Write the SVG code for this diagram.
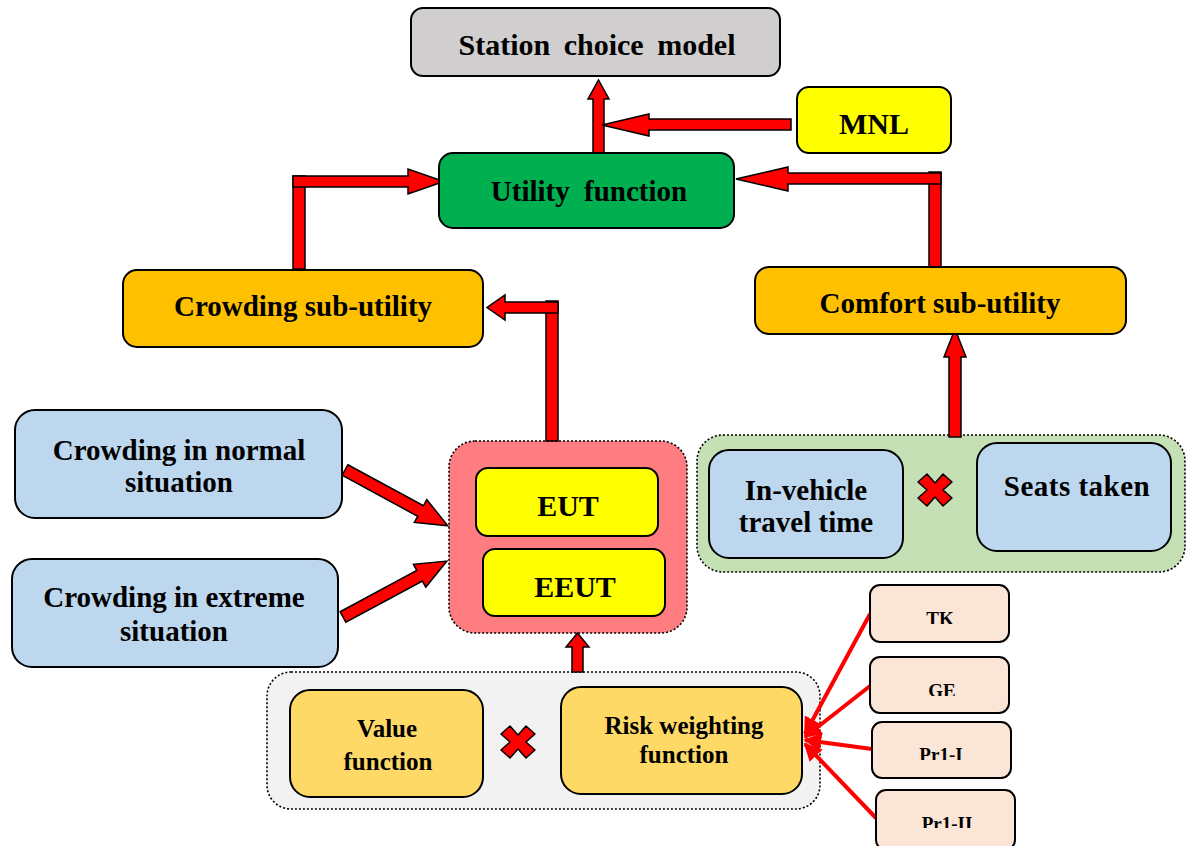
<svg xmlns="http://www.w3.org/2000/svg" width="1192" height="846" viewBox="0 0 1192 846">
  <defs>
    <style>
      .box { stroke: #000; stroke-width: 2; }
      .grp { stroke: #000; stroke-width: 1.6; stroke-dasharray: 2 2; }
      .lbl { font-family: "Liberation Serif", "Times New Roman", serif; font-weight: bold; fill: #000; text-anchor: middle; }
      .big { font-size: 29px; }
      .mid { font-size: 25px; }
      .sml { font-size: 19px; }
      .blk { fill: #FF0000; stroke: #000; stroke-width: 1.5; stroke-linejoin: miter; }
      .thin { stroke: #FF0000; stroke-width: 4; fill: none; }
      .cross { fill: #FF0000; stroke: #000; stroke-width: 1.5; stroke-linejoin: round; }
    </style>
    <marker id="redHead" viewBox="0 0 10 10" refX="9" refY="5" markerWidth="4.5" markerHeight="5" orient="auto" markerUnits="strokeWidth">
      <path d="M0,0 L10,5 L0,10 Z" fill="#FF0000"/>
    </marker>
    <clipPath id="clipTK"><rect x="860" y="580" width="160" height="44"/></clipPath>
    <clipPath id="clipGE"><rect x="860" y="650" width="160" height="46"/></clipPath>
    <clipPath id="clipP1"><rect x="860" y="715" width="160" height="45"/></clipPath>
    <clipPath id="clipP2"><rect x="860" y="785" width="170" height="43"/></clipPath>
  </defs>

  <rect width="1192" height="846" fill="#FFFFFF"/>

  <!-- group containers -->
  <g id="eut-group">
    <rect class="grp" x="449" y="441" width="238" height="192" rx="26" fill="#FF7C80"/>
  </g>
  <g id="comfort-group">
    <rect class="grp" x="697" y="435" width="488" height="137" rx="26" fill="#C5E0B4"/>
  </g>
  <g id="weighting-group">
    <rect class="grp" x="267" y="672" width="553" height="137" rx="24" fill="#F2F2F2"/>
  </g>

  <!-- connectors -->
  <g id="connectors">
    <!-- Utility function -> Station choice model -->
    <polygon class="blk" points="593,153 593,99 588,99 598.5,80 609,99 604,99 604,153"/>
    <!-- MNL -> main shaft -->
    <polygon class="blk" points="791,119 649,119 649,114 602,125 649,136 649,130 791,130"/>
    <!-- Crowding sub-utility -> Utility function -->
    <rect class="blk" x="293" y="176" width="12" height="93"/>
    <polygon class="blk" points="293,176 408,176 408,169 444,181.5 408,194 408,187 293,187"/>
    <!-- Comfort sub-utility -> Utility function -->
    <rect class="blk" x="929" y="172" width="12" height="97"/>
    <polygon class="blk" points="941,173 788,173 788,167 736,179 788,191 788,184 941,184"/>
    <!-- EUT group -> Crowding sub-utility -->
    <rect class="blk" x="546" y="301" width="12" height="140"/>
    <polygon class="blk" points="558,302 505,302 505,295 487,307.5 505,320 505,313 558,313"/>
    <!-- Comfort group -> Comfort sub-utility -->
    <polygon class="blk" points="949,437 949,357 944,357 955,329 966,357 961,357 961,437"/>
    <!-- weighting group -> EUT group -->
    <polygon class="blk" points="572,672 572,647 566,647 577.5,633 589,647 583,647 583,672"/>
    <!-- Crowding in normal situation -> EUT group -->
    <polygon class="blk" transform="translate(345,470) rotate(28.5)" points="0,-6 86,-6 86,-13 117,0 86,13 86,6 0,6"/>
    <!-- Crowding in extreme situation -> EUT group -->
    <polygon class="blk" transform="translate(343,617) rotate(-28.3)" points="0,-6 87,-6 87,-13 118,0 87,13 87,6 0,6"/>
    <!-- parameter sets -> Risk weighting function -->
    <line class="thin" x1="870" y1="614" x2="805" y2="734" marker-end="url(#redHead)"/>
    <line class="thin" x1="870" y1="686" x2="805" y2="737" marker-end="url(#redHead)"/>
    <line class="thin" x1="872" y1="749" x2="805" y2="740" marker-end="url(#redHead)"/>
    <line class="thin" x1="876" y1="818" x2="805" y2="744" marker-end="url(#redHead)"/>
  </g>

  <!-- nodes -->
  <g id="station-choice-model">
    <rect class="box" x="411" y="8" width="369" height="68" rx="12" fill="#D0CECE"/>
    <text class="lbl" x="597" y="55" font-size="30" word-spacing="6">Station choice model</text>
  </g>
  <g id="mnl">
    <rect class="box" x="797" y="87" width="154" height="66" rx="12" fill="#FFFF00"/>
    <text class="lbl" x="874" y="134" font-size="30">MNL</text>
  </g>
  <g id="utility-function">
    <rect class="box" x="439" y="153" width="295" height="75" rx="14" fill="#00B050"/>
    <text class="lbl big" x="589" y="201" word-spacing="7">Utility function</text>
  </g>
  <g id="crowding-sub-utility">
    <rect class="box" x="123" y="270" width="360" height="77" rx="14" fill="#FFC000"/>
    <text class="lbl big" x="303" y="316">Crowding sub-utility</text>
  </g>
  <g id="comfort-sub-utility">
    <rect class="box" x="755" y="267" width="371" height="67" rx="14" fill="#FFC000"/>
    <text class="lbl big" x="940" y="313">Comfort sub-utility</text>
  </g>
  <g id="crowding-normal">
    <rect class="box" x="15" y="410" width="327" height="108" rx="20" fill="#BDD7EE"/>
    <text class="lbl big" x="179" y="460">Crowding in normal</text>
    <text class="lbl big" x="179" y="492">situation</text>
  </g>
  <g id="crowding-extreme">
    <rect class="box" x="12" y="559" width="326" height="108" rx="20" fill="#BDD7EE"/>
    <text class="lbl big" x="174" y="607">Crowding in extreme</text>
    <text class="lbl big" x="174" y="641">situation</text>
  </g>
  <g id="eut">
    <rect class="box" x="476" y="468" width="182" height="68" rx="12" fill="#FFFF00"/>
    <text class="lbl" x="568" y="516" font-size="30">EUT</text>
  </g>
  <g id="eeut">
    <rect class="box" x="483" y="549" width="182" height="67" rx="12" fill="#FFFF00"/>
    <text class="lbl" x="575" y="597" font-size="30">EEUT</text>
  </g>
  <g id="in-vehicle-time">
    <rect class="box" x="709" y="450" width="194" height="108" rx="20" fill="#BDD7EE"/>
    <text class="lbl big" x="806" y="500">In-vehicle</text>
    <text class="lbl big" x="806" y="532">travel time</text>
  </g>
  <polygon id="comfort-times" class="cross" transform="translate(935,490)" points="-17,-8 -8,-16 0,-7 8,-16 17,-8 8,0 17,8 8,16 0,7 -8,16 -17,8 -8,0"/>
  <g id="seats-taken">
    <rect class="box" x="977" y="443" width="194" height="108" rx="20" fill="#BDD7EE"/>
    <text class="lbl big" x="1077" y="496" letter-spacing="0.5">Seats taken</text>
  </g>
  <g id="value-function">
    <rect class="box" x="290" y="690" width="193" height="107" rx="20" fill="#FFD966"/>
    <text class="lbl mid" x="387" y="737">Value</text>
    <text class="lbl mid" x="388" y="770">function</text>
  </g>
  <polygon id="weighting-times" class="cross" transform="translate(518,742)" points="-17,-8 -8,-16 0,-7 8,-16 17,-8 8,0 17,8 8,16 0,7 -8,16 -17,8 -8,0"/>
  <g id="risk-weighting-function">
    <rect class="box" x="561" y="687" width="241" height="107" rx="20" fill="#FFD966"/>
    <text class="lbl mid" x="684" y="734">Risk weighting</text>
    <text class="lbl mid" x="684" y="763">function</text>
  </g>
  <g id="tk">
    <rect class="box" x="870" y="585" width="139" height="57" rx="10" fill="#FBE5D6"/>
    <text class="lbl sml" x="940" y="625" clip-path="url(#clipTK)">TK</text>
  </g>
  <g id="ge">
    <rect class="box" x="870" y="657" width="139" height="56" rx="10" fill="#FBE5D6"/>
    <text class="lbl sml" x="942" y="697" clip-path="url(#clipGE)">GE</text>
  </g>
  <g id="pr1-i">
    <rect class="box" x="872" y="722" width="139" height="56" rx="10" fill="#FBE5D6"/>
    <text class="lbl sml" x="941" y="761" clip-path="url(#clipP1)">Pr1-I</text>
  </g>
  <g id="pr1-ii">
    <rect class="box" x="876" y="790" width="139" height="60" rx="10" fill="#FBE5D6"/>
    <text class="lbl sml" x="947" y="830" clip-path="url(#clipP2)">Pr1-II</text>
  </g>
</svg>
